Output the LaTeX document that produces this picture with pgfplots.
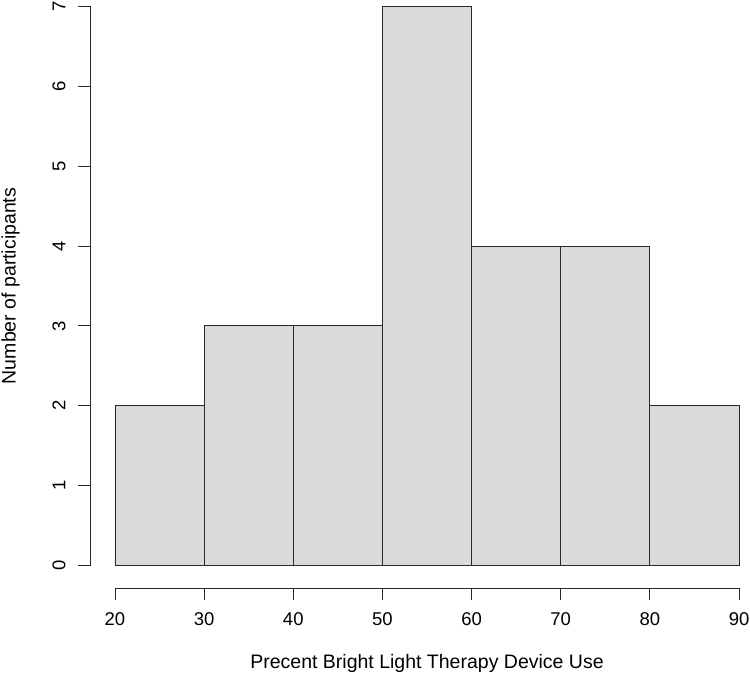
\documentclass[border=0pt]{standalone}
\usepackage{pgfplots}
\pgfplotsset{compat=1.18}
\usepackage{fontspec}
\setmainfont{Liberation Sans}
\definecolor{barfill}{RGB}{218,218,218}
\definecolor{ink}{RGB}{40,40,40}
\begin{document}
\begin{tikzpicture}
\begin{axis}[
  name=ax,
  scale only axis,
  width=674bp, height=604bp,
  xmin=17.2, xmax=92.8,
  ymin=-0.28, ymax=7.28,
  axis lines*=left,
  axis line style={draw=none},
  clip=false,
  xtick={20,30,...,90},
  ytick={0,1,...,7},
  tick align=outside,
  major tick length=12bp,
  tick style={ink, line width=0.9bp},
  /pgf/number format/assume math mode=true,
  ticklabel style={font=\fontsize{18.5bp}{21bp}\selectfont},
  label style={font=\fontsize{19.5bp}{22bp}\selectfont},
  xticklabel shift=9bp,
  yticklabel shift=9bp,
  yticklabel style={rotate=90, anchor=south},
  xlabel={Precent Bright Light Therapy Device Use},
  ylabel={Number of participants},
  xlabel style={at={(axis description cs:0.5,-0.1242)}, anchor=center},
  ylabel style={at={(axis description cs:-0.118,0.5)}, anchor=center},
]
\addplot[ybar interval, fill=barfill, draw=ink, line width=0.9bp] coordinates {
  (20,2) (30,3) (40,3) (50,7) (60,4) (70,4) (80,2) (90,2)};
% R-style detached axis lines
\draw[ink, line width=0.9bp] (axis cs:20,-0.28) -- (axis cs:90,-0.28);
\draw[ink, line width=0.9bp] (axis cs:17.2,0) -- (axis cs:17.2,7);
\end{axis}
\pgfresetboundingbox
\path ([shift={(-90bp,-94bp)}]ax.south west) rectangle ([shift={(660bp,588bp)}]ax.south west);
\end{tikzpicture}
\end{document}
